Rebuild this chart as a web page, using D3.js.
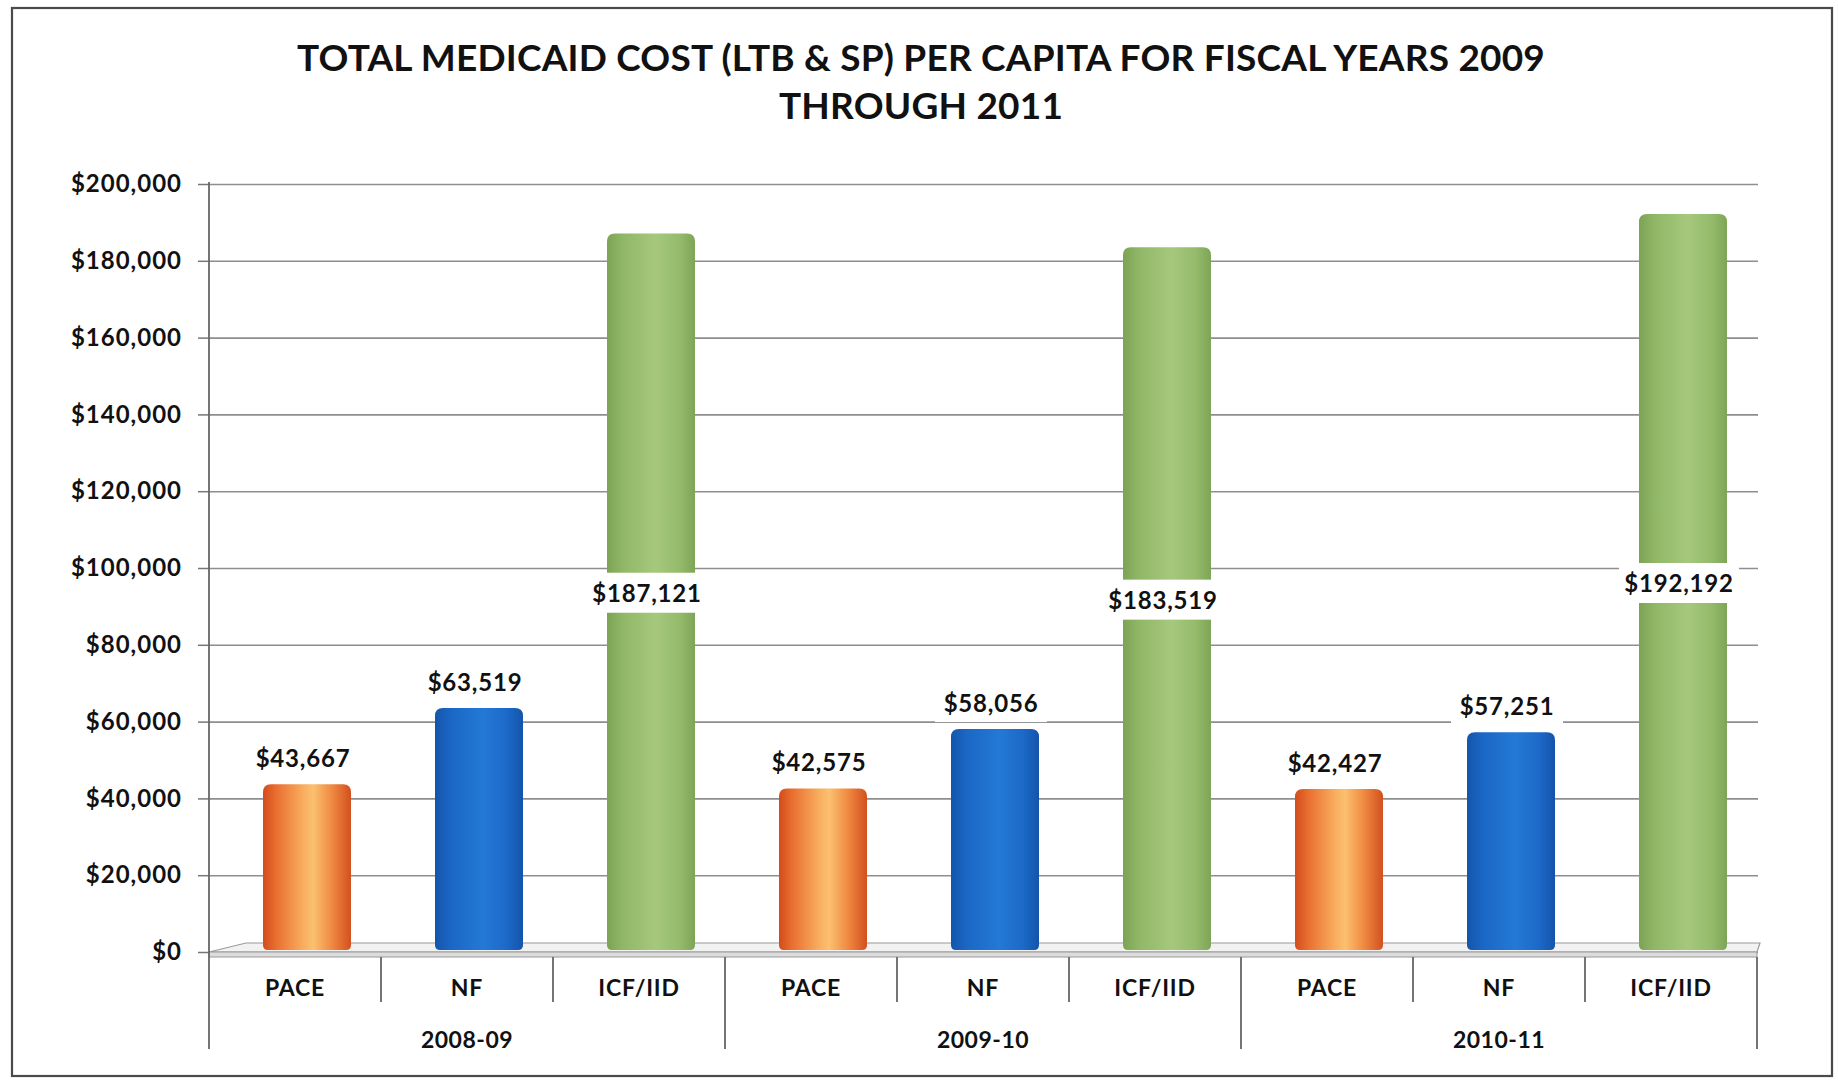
<!DOCTYPE html>
<html>
<head>
<meta charset="utf-8">
<script src="https://cdn.jsdelivr.net/npm/d3@7/dist/d3.min.js"></script>
<style>
  html, body { margin: 0; padding: 0; background: #fff; }
  svg { display: block; }
  text { font-family: Lato, "Open Sans", sans-serif; font-weight: 700; fill: #111; }
</style>
</head>
<body>
<svg id="chart" width="1838" height="1082"></svg>
<script>
// Fiscal years and programs
const years = ["2008-09", "2009-10", "2010-11"];
const programs = ["PACE", "NF", "ICF/IID"];

// Per-capita cost by program, one value per fiscal year
const pace = [43667, 42575, 42427];
const nf = [63519, 58056, 57251];
const icf = [187121, 183519, 192192];

// Value axis ticks
const yTicks = [0, 20000, 40000, 60000, 80000, 100000, 120000, 140000, 160000, 180000, 200000];

const titleLines = [
  "TOTAL MEDICAID COST (LTB & SP) PER CAPITA FOR FISCAL YEARS 2009",
  "THROUGH 2011"
];

const seriesByProgram = { "PACE": pace, "NF": nf, "ICF/IID": icf };

const rows = [];
years.forEach((yr, i) => {
  programs.forEach(p => {
    rows.push({ key: yr + "|" + p, year: yr, program: p, value: seriesByProgram[p][i] });
  });
});

const svg = d3.select("#chart");

const left = 209, right = 1757;
const y0px = 952, ytop = 184;

const x = d3.scaleBand().domain(rows.map(d => d.key)).range([left, right]).padding(0);
const y = d3.scaleLinear().domain([0, 200000]).range([y0px, ytop]);

// Outer frame
svg.append("rect")
  .attr("x", 12).attr("y", 8).attr("width", 1820).attr("height", 1068)
  .attr("fill", "#fff").attr("stroke", "#4a4a4a").attr("stroke-width", 2.2);

// Title
svg.append("g").selectAll("text").data(titleLines).join("text")
  .attr("x", 921)
  .attr("y", (d, i) => 56 + i * 48)
  .attr("text-anchor", "middle")
  .attr("dominant-baseline", "central")
  .style("font-size", "37px")
  .style("letter-spacing", "0.2px")
  .text(d => d);

// Cylinder shading
const defs = svg.append("defs");
const shades = {
  "PACE": [["0%", "#d24c1c"], ["15%", "#e96f30"], ["45%", "#f8ac5e"], ["57%", "#fbc070"], ["78%", "#f08a42"], ["100%", "#d2501e"]],
  "NF": [["0%", "#1455ab"], ["18%", "#1b67c6"], ["55%", "#2479d6"], ["82%", "#1c69c8"], ["100%", "#1454aa"]],
  "ICF/IID": [["0%", "#7da255"], ["18%", "#90b766"], ["55%", "#a6c87d"], ["82%", "#95bb6b"], ["100%", "#7ea457"]]
};
const gradId = p => "grad-" + programs.indexOf(p);
programs.forEach(p => {
  const g = defs.append("linearGradient").attr("id", gradId(p))
    .attr("x1", "0").attr("x2", "1").attr("y1", "0").attr("y2", "0");
  shades[p].forEach(([o, c]) => g.append("stop").attr("offset", o).attr("stop-color", c));
});

// Gridlines and value axis
const grid = svg.append("g").attr("transform", `translate(${left},0)`)
  .call(d3.axisLeft(y).tickValues(yTicks).tickSize(-(1758 - left)).tickFormat(""));
grid.select(".domain").remove();
grid.selectAll(".tick line").attr("stroke", "#8e8e8e").attr("stroke-width", 1.6);

const yAxis = svg.append("g").attr("transform", `translate(${left},0)`)
  .call(d3.axisLeft(y).tickValues(yTicks).tickSize(11).tickPadding(16)
    .tickFormat(d => "$" + d3.format(",")(d)));
yAxis.select(".domain").remove();
yAxis.selectAll(".tick line").attr("stroke", "#777").attr("stroke-width", 1.5);
yAxis.selectAll(".tick text").style("font-size", "24px").attr("fill", "#111")
  .style("letter-spacing", "1px")
  .style("font-family", "Lato, sans-serif").style("font-weight", 700);

// Floor slab
svg.append("path")
  .attr("d", `M${left},${y0px} L${left + 37},${y0px - 9} L${1760},${y0px - 9} L${right},${y0px} Z`)
  .attr("fill", "#f2f2f2").attr("stroke", "#9a9a9a").attr("stroke-width", 1.2);
svg.append("rect")
  .attr("x", left).attr("y", y0px).attr("width", right - left).attr("height", 5)
  .attr("fill", "#dcdcdc").attr("stroke", "#9a9a9a").attr("stroke-width", 1);

// Bars
const barW = 88, barShift = 12;
const barX = d => x(d.key) + x.bandwidth() / 2 + barShift - barW / 2;
function cylinder(d) {
  const x0 = barX(d), x1 = x0 + barW;
  const top = y(d.value), bot = y(0) - 2;
  const r = 8, rb = 5;
  return `M${x0},${bot - rb} L${x0},${top + r} Q${x0},${top} ${x0 + r},${top} ` +
    `L${x1 - r},${top} Q${x1},${top} ${x1},${top + r} L${x1},${bot - rb} ` +
    `Q${x1},${bot} ${x1 - rb},${bot} L${x0 + rb},${bot} Q${x0},${bot} ${x0},${bot - rb} Z`;
}
svg.append("g").selectAll("path").data(rows).join("path")
  .attr("d", cylinder)
  .attr("fill", d => `url(#${gradId(d.program)})`);

// Value labels: ICF/IID sits mid-bar, the others above their bars
const labelFmt = d => "$" + d3.format(",")(d.value);
const labelY = d => d.program === "ICF/IID" ? y(d.value / 2) : y(d.value) - 27;
const labels = svg.append("g").selectAll("g").data(rows).join("g")
  .attr("transform", d => `translate(${x(d.key) + x.bandwidth() / 2 + barShift - 4},${labelY(d)})`);
labels.append("rect")
  .attr("x", d => d.program === "ICF/IID" ? -60 : -56)
  .attr("y", -20).attr("width", d => d.program === "ICF/IID" ? 120 : 112).attr("height", 40)
  .attr("fill", "#fff");
labels.append("text")
  .attr("text-anchor", "middle").attr("dominant-baseline", "central")
  .style("font-size", "24px")
  .style("letter-spacing", "0.8px")
  .text(labelFmt);

// Category axis
const axisG = svg.append("g");
axisG.append("line").attr("x1", left).attr("x2", left).attr("y1", ytop - 2).attr("y2", y0px + 97)
  .attr("stroke", "#666").attr("stroke-width", 1.8);
const bounds = rows.map(d => x(d.key)).concat([right]);
axisG.selectAll("line.sep").data(bounds.slice(1)).join("line")
  .attr("class", "sep")
  .attr("x1", d => d).attr("x2", d => d)
  .attr("y1", y0px + 5)
  .attr("y2", (d, i) => ((i + 1) % 3 === 0) ? y0px + 97 : y0px + 50)
  .attr("stroke", "#666").attr("stroke-width", 1.8);

const xAxis = svg.append("g").attr("transform", `translate(0,${y0px + 36})`)
  .call(d3.axisBottom(x).tickSize(0).tickPadding(0).tickFormat(k => k.split("|")[1]));
xAxis.select(".domain").remove();
xAxis.selectAll(".tick text").style("font-size", "23px").attr("fill", "#111")
  .attr("dy", "0.35em").attr("y", 0)
  .style("letter-spacing", "0.8px")
  .style("font-family", "Lato, sans-serif").style("font-weight", 700);

// Fiscal year labels centred under each group of three
svg.append("g").selectAll("text").data(years).join("text")
  .attr("x", yr => (x(yr + "|PACE") + x(yr + "|ICF/IID") + x.bandwidth()) / 2)
  .attr("y", y0px + 87)
  .attr("text-anchor", "middle").attr("dominant-baseline", "central")
  .style("font-size", "23px")
  .style("letter-spacing", "0.5px")
  .text(d => d);
</script>
</body>
</html>
